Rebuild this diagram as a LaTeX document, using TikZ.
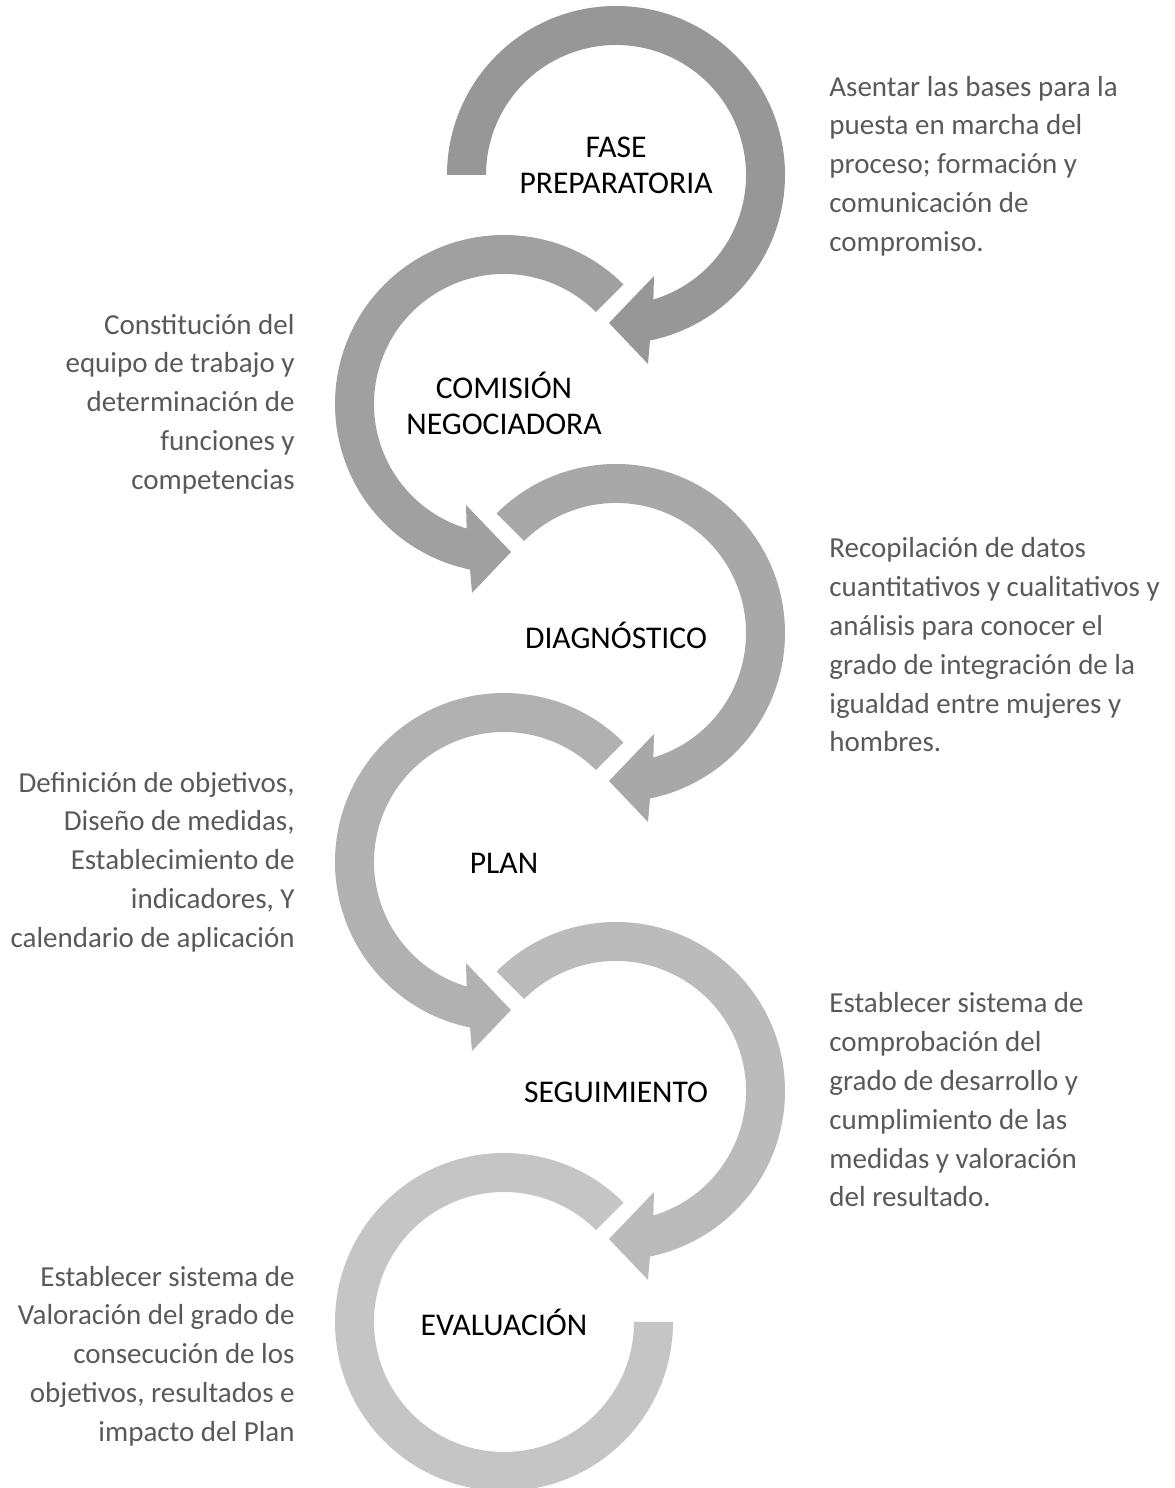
\documentclass[tikz,border=0pt]{standalone}
\usepackage{fontspec}
\setmainfont{Carlito}
\usetikzlibrary{positioning}
\definecolor{ringA}{RGB}{151,151,151}
\definecolor{ringB}{RGB}{160,160,160}
\definecolor{ringC}{RGB}{168,168,168}
\definecolor{ringD}{RGB}{177,177,177}
\definecolor{ringE}{RGB}{187,187,187}
\definecolor{ringF}{RGB}{197,197,197}
\definecolor{notegray}{RGB}{89,89,89}
\tikzset{
  stage/.style={font=\fontsize{15.8}{18}\selectfont, text=black, align=center},
  note/.style={font=\fontsize{14.5}{19.4}\selectfont, text=notegray, inner sep=0pt},
  noteR/.style={note, align=left, anchor=west},
  noteL/.style={note, align=right, anchor=east},
}
% ring turning clockwise, head at the bottom: centre, start angle, colour
\newcommand{\cwring}[3]{%
  \fill[#3, shift={(#1)}] (#2:169) arc[start angle=#2, end angle=-78.4, radius=169]
    -- (32,-189) -- (-7,-148) -- (38,-101) -- (-73.3:130)
    arc[start angle=-73.3, end angle=#2, radius=130] -- cycle;}
% ring turning counter-clockwise, head at the bottom
\newcommand{\ccwring}[3]{%
  \fill[#3, shift={(#1)}] (#2:169) arc[start angle=#2, end angle=258.4, radius=169]
    -- (-32,-189) -- (7,-148) -- (-38,-101) -- (253.3:130)
    arc[start angle=253.3, end angle=#2, radius=130] -- cycle;}

\begin{document}
\begin{tikzpicture}[x=0.5pt, y=0.5pt]
\useasboundingbox (0,0) rectangle (1174,1488);

\coordinate (c1) at (616,1313);
\coordinate (c2) at (504,1084);
\coordinate (c3) at (616,855);
\coordinate (c4) at (504,626);
\coordinate (c5) at (616,397);
\coordinate (c6) at (504,166);

\foreach \c/\s/\col in {c1/180/ringA, c3/135/ringC, c5/135/ringE}
  \cwring{\c}{\s}{\col};
\foreach \c/\col in {c2/ringB, c4/ringD}
  \ccwring{\c}{45}{\col};

% last ring has no head
\fill[ringF, shift={(c6)}] (45:169) arc[start angle=45, end angle=360, radius=169]
  -- (0:130) arc[start angle=360, end angle=45, radius=130] -- cycle;

\node[stage] (fase) at (616,1323) {FASE\\PREPARATORIA};
\node[stage] (comision) at (504,1085) {COMISIÓN\\NEGOCIADORA};
\node[stage] (diag) at (616,853) {DIAGNÓSTICO};
\node[stage] (plan) at (504,625) {PLAN};
\node[stage] (segui) at (616,396) {SEGUIMIENTO};
\node[stage] (evalua) at (504,166) {EVALUACIÓN};

\node[noteR] (nfase) at (829,1322)
  {Asentar las bases para la\\ puesta en marcha del\\ proceso; formación y\\
   comunicación de\\ compromiso.};
\node[noteL] (ncomision) at (295,1084)
  {Constitución del\\ equipo de trabajo y\\ determinación de\\ funciones y\\
   competencias};
\node[noteR] (ndiag) at (829,843)
  {Recopilación de datos\\ cuantitativos y cualitativos y\\ análisis para conocer el\\
   grado de integración de la\\ igualdad entre mujeres y\\ hombres.};
\node[noteL] (nplan) at (295,626)
  {Definición de objetivos,\\ Diseño de medidas,\\ Establecimiento de\\
   indicadores, Y\\ calendario de aplicación};
\node[noteR] (nsegui) at (829,388)
  {Establecer sistema de\\ comprobación del\\ grado de desarrollo y\\
   cumplimiento de las\\ medidas y valoración\\ del resultado.};
\node[noteL] (nevalua) at (295,132)
  {Establecer sistema de\\ Valoración del grado de\\ consecución de los\\
   objetivos, resultados e\\ impacto del Plan};

\end{tikzpicture}
\end{document}
